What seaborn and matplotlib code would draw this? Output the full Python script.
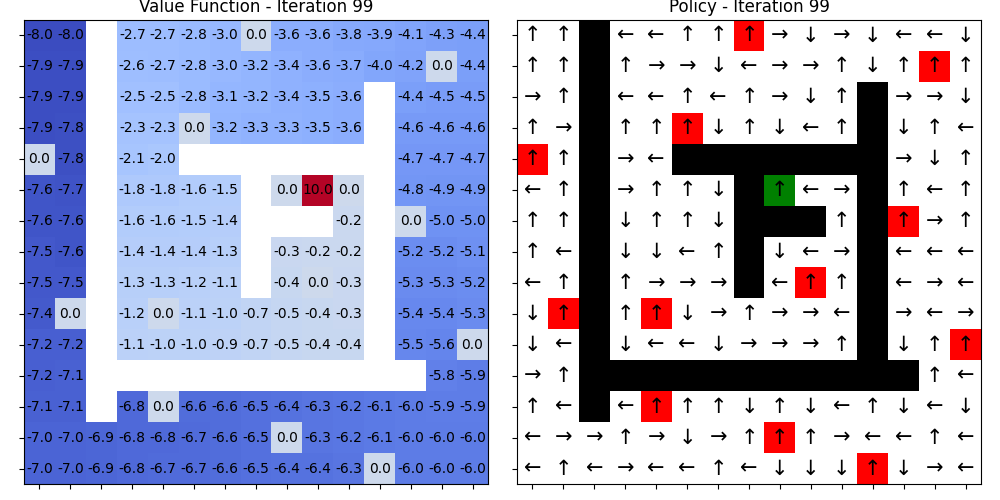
import numpy as np
import pandas as pd
import matplotlib
matplotlib.use("Agg")
import matplotlib.pyplot as plt
from matplotlib.colors import ListedColormap
import seaborn as sns

N = np.nan
# Value function (rows top to bottom, NaN = wall)
value_rows = [
    [-8.0, -8.0, N, -2.7, -2.7, -2.8, -3.0, 0.0, -3.6, -3.6, -3.8, -3.9, -4.1, -4.3, -4.4],
    [-7.9, -7.9, N, -2.6, -2.7, -2.8, -3.0, -3.2, -3.4, -3.6, -3.7, -4.0, -4.2, 0.0, -4.4],
    [-7.9, -7.9, N, -2.5, -2.5, -2.8, -3.1, -3.2, -3.4, -3.5, -3.6, N, -4.4, -4.5, -4.5],
    [-7.9, -7.8, N, -2.3, -2.3, 0.0, -3.2, -3.3, -3.3, -3.5, -3.6, N, -4.6, -4.6, -4.6],
    [0.0, -7.8, N, -2.1, -2.0, N, N, N, N, N, N, N, -4.7, -4.7, -4.7],
    [-7.6, -7.7, N, -1.8, -1.8, -1.6, -1.5, N, 0.0, 10.0, 0.0, N, -4.8, -4.9, -4.9],
    [-7.6, -7.6, N, -1.6, -1.6, -1.5, -1.4, N, N, N, -0.2, N, 0.0, -5.0, -5.0],
    [-7.5, -7.6, N, -1.4, -1.4, -1.4, -1.3, N, -0.3, -0.2, -0.2, N, -5.2, -5.2, -5.1],
    [-7.5, -7.5, N, -1.3, -1.3, -1.2, -1.1, N, -0.4, 0.0, -0.3, N, -5.3, -5.3, -5.2],
    [-7.4, 0.0, N, -1.2, 0.0, -1.1, -1.0, -0.7, -0.5, -0.4, -0.3, N, -5.4, -5.4, -5.3],
    [-7.2, -7.2, N, -1.1, -1.0, -1.0, -0.9, -0.7, -0.5, -0.4, -0.4, N, -5.5, -5.6, 0.0],
    [-7.2, -7.1, N, N, N, N, N, N, N, N, N, N, N, -5.8, -5.9],
    [-7.1, -7.1, N, -6.8, 0.0, -6.6, -6.6, -6.5, -6.4, -6.3, -6.2, -6.1, -6.0, -5.9, -5.9],
    [-7.0, -7.0, -6.9, -6.8, -6.8, -6.7, -6.6, -6.5, 0.0, -6.3, -6.2, -6.1, -6.0, -6.0, -6.0],
    [-7.0, -7.0, -6.9, -6.8, -6.7, -6.7, -6.6, -6.5, -6.4, -6.4, -6.3, 0.0, -6.0, -6.0, -6.0],
]

# Policy arrows per row ('#' = wall)
policy_rows = [
    "↑↑#←←↑↑↑→↓→↓←←↓",
    "↑↑#↑→→↓←→→↑↓↑↑↑",
    "→↑#←←↑←↑→↓↑#→→↓",
    "↑→#↑↑↑↓↑↓←↑#↓↑←",
    "↑↑#→←#######→↓↑",
    "←↑#→↑↑↓#↑←→#↑←↑",
    "↑↑#↓↑↑↓###↑#↑→↑",
    "↑←#↓↓←↑#↓←→#←←←",
    "←↑#↑→→→#←↑↑#←→←",
    "↓↑#↑↑↓→↑→→←#→←→",
    "↓←#↓←←↓→→→↑#↓↑↑",
    "→↑###########↑←",
    "↑←#←↑↑↑↓↑↓←↑↓←↓",
    "←→→↑→↓→↑↑↑→←←↑←",
    "←↑←→←←↑←↓↓↓↑↓→←",
]

trap_cells = [(0, 7), (1, 13), (3, 5), (4, 0), (6, 12), (8, 9), (9, 1),
              (9, 4), (10, 14), (12, 4), (13, 8), (14, 11)]
goal_cell = (5, 8)

iteration = 99

values = pd.DataFrame(value_rows)
n = len(policy_rows)

arrows = np.array([[("" if ch == "#" else ch) for ch in row] for row in policy_rows])
cell_type = np.array([[1 if ch == "#" else 0 for ch in row] for row in policy_rows])
for r, c in trap_cells:
    cell_type[r, c] = 2
cell_type[goal_cell] = 3

fig = plt.figure(figsize=(10, 5), dpi=100)
ax1 = fig.add_axes([0.024, 0.032, 0.464, 0.928])
ax2 = fig.add_axes([0.517, 0.032, 0.464, 0.928])

sns.heatmap(values, ax=ax1, cmap="coolwarm", mask=values.isna(), annot=True,
            fmt=".1f", annot_kws={"color": "black", "fontsize": 10},
            cbar=False, square=False)
ax1.set_title(f"Value Function - Iteration {iteration}", fontsize=12)
ax1.set_xticklabels([])
ax1.set_yticklabels([])
for s in ax1.spines.values():
    s.set_visible(True)
    s.set_color("black")

sns.heatmap(cell_type, ax=ax2, cmap=ListedColormap(["white", "black", "red", "green"]),
            vmin=-0.5, vmax=3.5, annot=arrows, fmt="",
            annot_kws={"color": "black", "fontsize": 15}, cbar=False)
ax2.set_title(f"Policy - Iteration {iteration}", fontsize=12)
ax2.set_xticklabels([])
ax2.set_yticklabels([])
for s in ax2.spines.values():
    s.set_visible(True)
    s.set_color("black")

fig.savefig("out.png", dpi=100)
